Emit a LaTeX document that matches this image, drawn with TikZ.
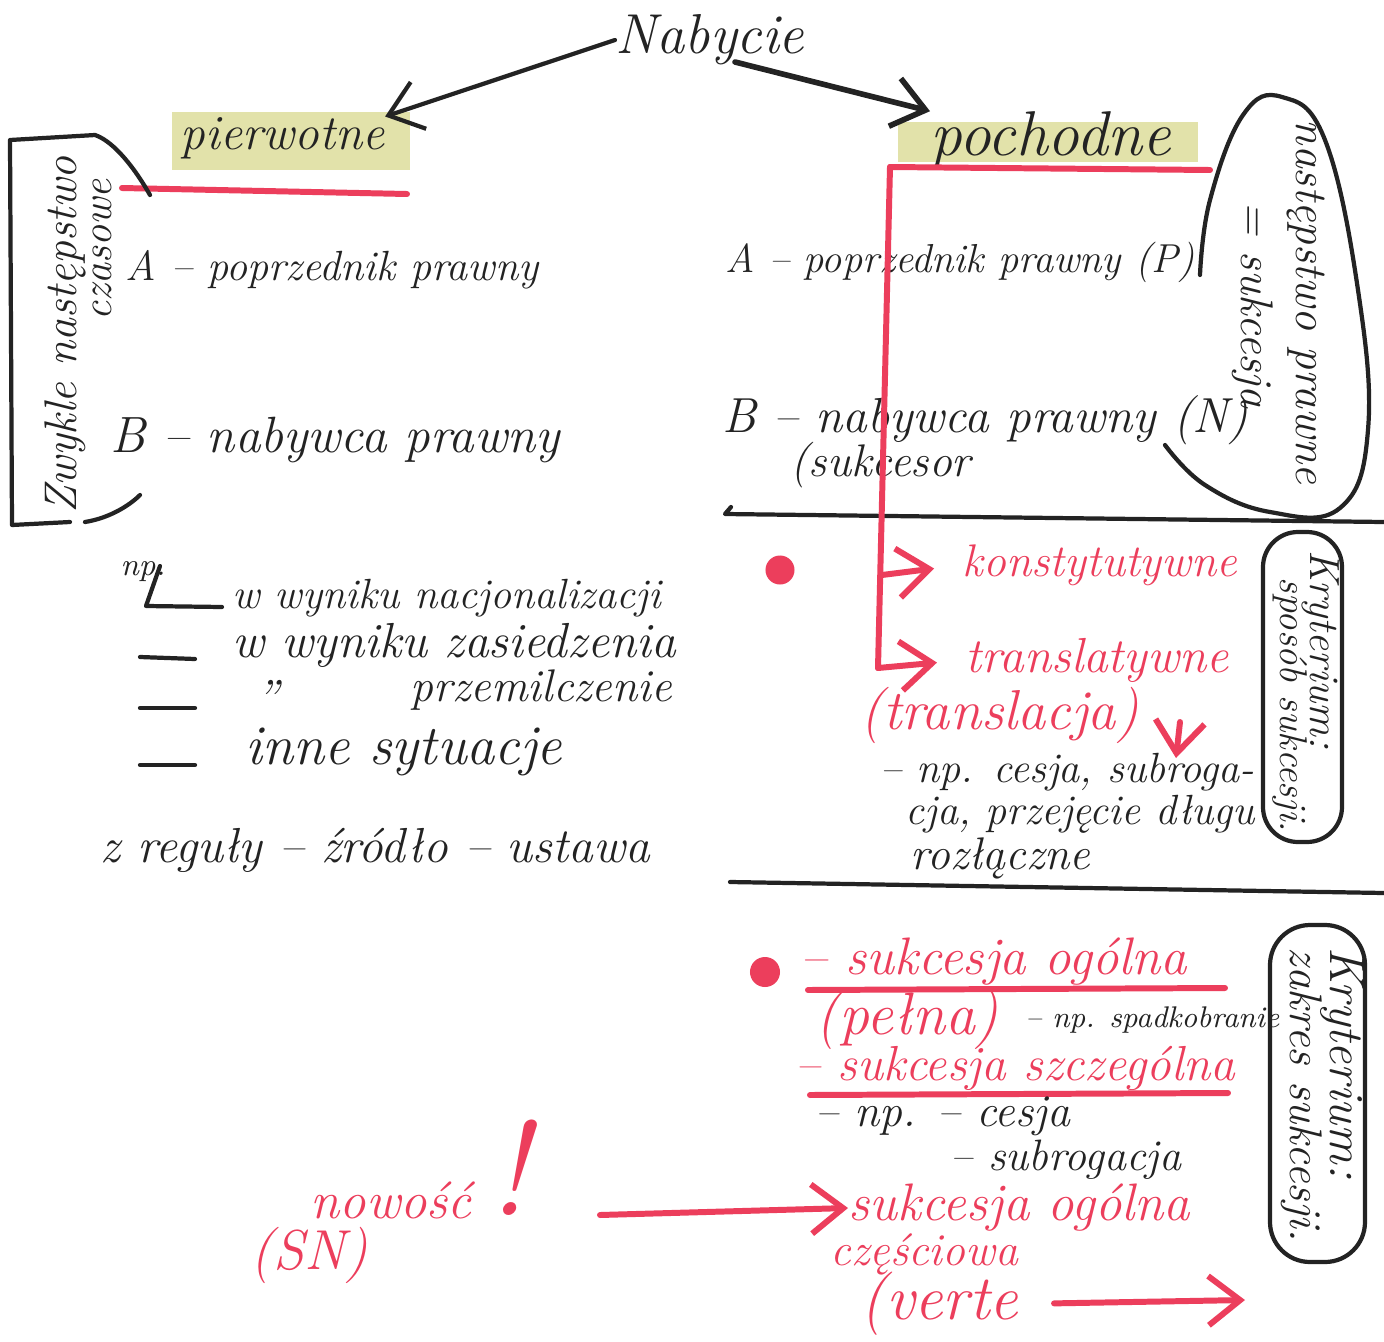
\documentclass[tikz,border=0pt]{standalone}
\usetikzlibrary{arrows.meta}
\definecolor{ink}{RGB}{35,35,35}
\definecolor{pen}{RGB}{236,62,92}
\definecolor{hl}{RGB}{226,226,170}
\newcommand{\fs}[1]{\fontsize{#1}{#1}\selectfont\itshape}
\begin{document}
\begin{tikzpicture}[x=0.01cm,y=-0.01cm,line cap=round,line join=round,
  tx/.style={text=ink,inner sep=0pt,anchor=west},
  rtx/.style={text=pen,inner sep=0pt,anchor=west},
  rot/.style={text=ink,inner sep=0pt,rotate=-90},
  inkline/.style={draw=ink,line width=1.2pt},
  penline/.style={draw=pen,line width=1.7pt},
  barb/.style={-{Straight Barb[length=9pt,width=14pt]}},
  dotnode/.style={circle,fill=pen,inner sep=0pt,minimum size=0.29cm}]
\useasboundingbox (0,0) rectangle (1384,1342);
\fill[white] (0,0) rectangle (1384,1342);
% highlights
\fill[hl] (172,112) rectangle (410,170);
\fill[hl] (898,122) rectangle (1198,162);
% title
\node[tx,font=\fs{16}] (nab) at (615,40) {Nabycie};
\node[tx,font=\fs{14}] (pierw) at (180,138) {pierwotne};
\node[tx,font=\fs{18}] (poch) at (930,140) {pochodne};
\coordinate (a2s) at (735,62);
\draw[inkline,barb] (nab.west) -- (pierw.north east);
\draw[inkline,line width=1.6pt,barb] (a2s) -- (poch.north west);
% left column
\draw[penline] (122,188) -- (407,194);
\node[tx,font=\fs{12}] (lA) at (125,270) {A -- poprzednik prawny};
\node[tx,font=\fs{14.5}] (lB) at (110,440) {B -- nabywca prawny};
\draw[inkline] (150,195) .. controls (130,160) and (110,140) .. (95,135) -- (10,140) -- (12,525) -- (70,522);
\draw[inkline] (85,522) .. controls (110,518) and (130,505) .. (140,495);
\node[text=ink,inner sep=0pt,rotate=90,font=\fs{13}] (zw) at (65,335) {Zwykle następstwo};
\node[text=ink,inner sep=0pt,rotate=90,font=\fs{12}] (cz) at (102,250) {czasowe};
% list
\node[tx,font=\fs{9}] (np1) at (120,572) {np.};
\draw[inkline] (160,566) -- (146,606) -- (222,607);
\node[tx,font=\fs{12}] (l1) at (232,598) {w wyniku nacjonalizacji};
\draw[inkline] (140,657) -- (195,659);
\node[tx,font=\fs{14}] (l2) at (232,645) {w wyniku zasiedzenia};
\draw[inkline] (140,708) -- (195,708);
\node[tx,font=\fs{14}] (ditto) at (255,697) {''};
\node[tx,font=\fs{13}] (l3) at (410,690) {przemilczenie};
\draw[inkline] (140,765) -- (195,765);
\node[tx,font=\fs{16}] (l4) at (245,752) {inne sytuacje};
\node[tx,font=\fs{14}] (l5) at (100,850) {z reguły -- źródło -- ustawa};
% right column
\draw[penline] (890,167) -- (1210,170);
\node[tx,font=\fs{11.5}] (rA) at (725,262) {A -- poprzednik prawny (P)};
\node[tx,font=\fs{14}] (rB) at (722,420) {B -- nabywca prawny (N)};
\node[tx,font=\fs{13}] (suk) at (790,465) {(sukcesor};
\draw[inkline] plot[smooth,tension=0.7] coordinates {(1200,275) (1210,200) (1243,115) (1282,97) (1325,140) (1358,290) (1368,430) (1340,508) (1270,512) (1205,485) (1165,445)};
\node[rot,font=\fs{13}] (nastp) at (1306,302) {następstwo prawne};
\node[rot,font=\fs{13}] (sukc) at (1253,305) {= sukcesja};
\draw[inkline] (731,507) -- (725,514) -- (1384,522);
% red tree
\node[dotnode] (dot1) at (780,570) {};
\node[rtx,font=\fs{13}] (konst) at (962,565) {konstytutywne};
\node[rtx,font=\fs{14}] (transl) at (965,660) {translatywne};
\node[rtx,font=\fs{16}] (translc) at (860,715) {(translacja)};
\coordinate (rtop) at (890,167);
\coordinate (rk) at (882,575);
\coordinate (rt) at (878,668);
\draw[penline] (rtop) -- (rt);
\draw[penline,barb,shorten >=8pt] (rk) -- (konst.west);
\draw[penline,barb,shorten >=8pt] (rt) -- (transl.west);
\coordinate (ra1) at (1180,722);
\coordinate (ra2) at (1176,758);
\draw[penline,barb] (ra1) -- (ra2);
\node[tx,font=\fs{12}] (cs1) at (880,772) {-- np. cesja, subroga-};
\node[tx,font=\fs{12}] (cs2) at (905,814) {cja, przejęcie długu};
\node[tx,font=\fs{13}] (cs3) at (910,858) {rozłączne};
\draw[inkline,rounded corners=0.35cm] (1263,532) rectangle (1342,842);
\node[rot,font=\fs{12}] (kr1) at (1321,650) {Kryterium:};
\node[rot,font=\fs{11}] (sp1) at (1290,705) {sposób sukcesji.};
\draw[inkline] (730,882) -- (1384,893);
% bottom section
\node[dotnode,minimum size=0.3cm] (dot2) at (765,972) {};
\node[rtx,font=\fs{15}] (sog1) at (800,962) {-- sukcesja ogólna};
\draw[penline] (808,990) -- (1225,988);
\node[rtx,font=\fs{17}] (pel) at (815,1020) {(pełna)};
\node[tx,font=\fs{8.5}] (spad) at (1025,1020) {-- np. spadkobranie};
\node[rtx,font=\fs{14}] (szcz) at (795,1068) {-- sukcesja szczególna};
\draw[penline] (810,1095) -- (1228,1093);
\node[tx,font=\fs{13}] (np2) at (815,1116) {-- np. -- cesja};
\node[tx,font=\fs{12.5}] (subr) at (950,1160) {-- subrogacja};
\node[rtx,font=\fs{15}] (sog2) at (848,1208) {sukcesja ogólna};
\node[rtx,font=\fs{13}] (cze) at (830,1254) {częściowa};
\node[rtx,font=\fs{18}] (ver) at (860,1304) {(verte};
\coordinate (vend) at (1245,1300);
\draw[penline,barb,shorten <=10pt] (ver.east) -- (vend);
\draw[inkline,rounded corners=0.4cm] (1270,925) rectangle (1365,1262);
\node[rot,font=\fs{14}] (kr2) at (1342,1063) {Kryterium:};
\node[rot,font=\fs{13}] (zk) at (1302,1095) {zakres sukcesji.};
% nowosc
\node[rtx,font=\fs{15}] (now) at (310,1200) {nowość};
\node[rtx,font=\fs{38}] (excl) at (488,1168) {!};
\node[rtx,font=\fs{16}] (sn) at (250,1255) {(SN)};
\coordinate (nstart) at (600,1215);
\draw[penline,barb] (nstart) -- (sog2.west);
\end{tikzpicture}
\end{document}
